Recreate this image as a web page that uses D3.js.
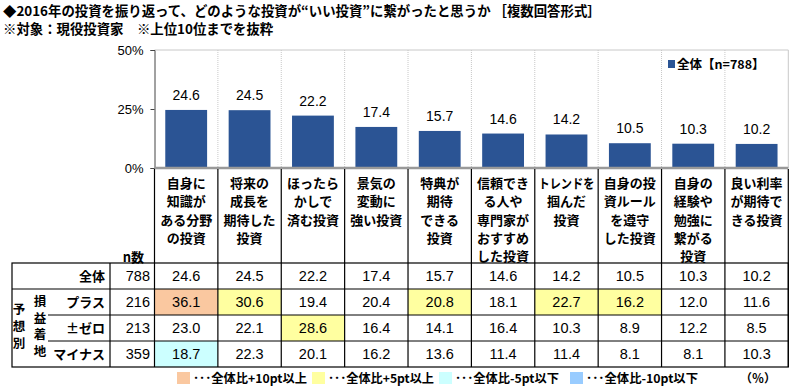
<!DOCTYPE html>
<html>
<head>
<meta charset="utf-8">
<script src="https://cdn.jsdelivr.net/npm/d3@7"></script>
<style>
  body { margin: 0; background: #fff; }
  svg { display: block; font-family: "Liberation Sans", Arial, "Noto Sans CJK JP", sans-serif; }
</style>
</head>
<body>
<svg id="chart" width="800" height="389"></svg>
<script>
// data
const categories = [
  ['自身に', '知識が', 'ある分野', 'の投資'],
  ['将来の', '成長を', '期待した', '投資'],
  ['ほったら', 'かしで', '済む投資'],
  ['景気の', '変動に', '強い投資'],
  ['特典が', '期待', 'できる', '投資'],
  ['信頼でき', 'る人や', '専門家が', 'おすすめ', 'した投資'],
  ['トレンドを', '掴んだ', '投資'],
  ['自身の投', '資ルール', 'を遵守', 'した投資'],
  ['自身の', '経験や', '勉強に', '繋がる', '投資'],
  ['良い利率', 'が期待で', 'きる投資']
];
const totalValues = [24.6, 24.5, 22.2, 17.4, 15.7, 14.6, 14.2, 10.5, 10.3, 10.2];
const plusValues = [36.1, 30.6, 19.4, 20.4, 20.8, 18.1, 22.7, 16.2, 12.0, 11.6];
const zeroValues = [23.0, 22.1, 28.6, 16.4, 14.1, 16.4, 10.3, 8.9, 12.2, 8.5];
const minusValues = [18.7, 22.3, 20.1, 16.2, 13.6, 11.4, 11.4, 8.1, 8.1, 10.3];
const rowLabels = ['全体', 'プラス', '±ゼロ', 'マイナス'];
const rowN = [788, 216, 213, 359];
const yTicks = [0, 25, 50];
const legendItems = ['･･･全体比+10pt以上', '･･･全体比+5pt以上', '･･･全体比-5pt以下', '･･･全体比-10pt以下'];

const BAR_FILL = '#2b5494';
const JP = '"Noto Sans CJK JP", sans-serif';
const NUM = '"Liberation Sans", Arial, "Noto Sans CJK JP", sans-serif';
const HL = ['#fac8a0', '#ffffa0', '#ccffff', '#99ccff'];

const svg = d3.select('#chart');
const left = 154.5, right = 788.3, yTop = 50, yBase = 168;
const idx = d3.range(categories.length);

const x = d3.scaleBand().domain(idx).range([left, right]).paddingInner(0.34).paddingOuter(0.17);
const xc = d3.scaleBand().domain(idx).range([left, right]).padding(0);
const y = d3.scaleLinear().domain([0, 50]).range([yBase, yTop]);

// title
svg.append('text').attr('x', 3).attr('y', 16)
  .attr('font-family', JP).attr('font-size', 13.4).attr('font-weight', 'bold')
  .text('◆2016年の投資を振り返って、どのような投資が“いい投資”に繋がったと思うか ［複数回答形式］');
svg.append('text').attr('x', 3).attr('y', 34)
  .attr('font-family', JP).attr('font-size', 13.4).attr('font-weight', 'bold')
  .text('※対象：現役投資家　※上位10位までを抜粋');

// plot frame + grid
svg.append('line').attr('x1', left).attr('x2', right).attr('y1', yTop).attr('y2', yTop)
  .attr('stroke', '#c8c8c8');
svg.append('line').attr('x1', right).attr('x2', right).attr('y1', yTop).attr('y2', yBase)
  .attr('stroke', '#c8c8c8');
idx.slice(1).forEach(i => {
  svg.append('line').attr('x1', xc(i)).attr('x2', xc(i)).attr('y1', yTop).attr('y2', yBase)
    .attr('stroke', '#c8c8c8').attr('stroke-dasharray', '1,1');
});

// y axis
const yAxis = svg.append('g').attr('transform', `translate(${left},0)`)
  .call(d3.axisLeft(y).tickValues(yTicks).tickSize(4).tickFormat(d => d + '%'));
yAxis.select('.domain').attr('stroke', '#444');
yAxis.selectAll('.tick line').attr('stroke', '#444');
yAxis.selectAll('text').attr('font-family', NUM).attr('font-size', 13).attr('fill', '#000').attr('dx', -4);

// bars
svg.selectAll('rect.bar').data(totalValues).join('rect')
  .attr('class', 'bar')
  .attr('x', (d, i) => x(i)).attr('width', x.bandwidth())
  .attr('y', d => y(d)).attr('height', d => yBase - y(d))
  .attr('fill', BAR_FILL);

svg.selectAll('text.val').data(totalValues).join('text')
  .attr('class', 'val')
  .attr('x', (d, i) => x(i) + x.bandwidth() / 2)
  .attr('y', d => y(d) - 10)
  .attr('text-anchor', 'middle')
  .attr('font-family', NUM).attr('font-size', 14)
  .text(d => d.toFixed(1));

// x axis line
svg.append('line').attr('x1', left).attr('x2', right).attr('y1', yBase).attr('y2', yBase)
  .attr('stroke', '#999').attr('stroke-width', 2.5);

// legend top
svg.append('rect').attr('x', 668).attr('y', 60).attr('width', 7).attr('height', 8).attr('fill', BAR_FILL);
svg.append('text').attr('x', 677).attr('y', 69)
  .attr('font-family', JP).attr('font-size', 12.5).attr('font-weight', 'bold')
  .text('全体【n=788】');

// table
const tTop = 263, rowH = 26, tLeft = 12, nLeft = 110;
const rows = [totalValues, plusValues, zeroValues, minusValues];
const tBottom = tTop + rowH * rows.length;

// highlight cells
rows.forEach((vals, r) => {
  if (r === 0) return;
  vals.forEach((v, i) => {
    const d = v - totalValues[i];
    let c = null;
    if (d >= 10) c = HL[0];
    else if (d >= 5) c = HL[1];
    else if (d <= -10) c = HL[3];
    else if (d <= -5) c = HL[2];
    if (c) svg.append('rect').attr('x', xc(i)).attr('y', tTop + r * rowH)
      .attr('width', xc.bandwidth()).attr('height', rowH).attr('fill', c);
  });
});

// header column lines
idx.concat([categories.length]).forEach(i => {
  const xx = i < categories.length ? xc(i) : right;
  svg.append('line').attr('x1', xx).attr('x2', xx).attr('y1', yBase + 1).attr('y2', tBottom)
    .attr('stroke', '#000').attr('stroke-width', 1.2);
});

// category labels
categories.forEach((lines, i) => {
  const t = svg.append('text')
    .attr('x', xc(i) + xc.bandwidth() / 2)
    .attr('text-anchor', 'middle')
    .attr('font-family', JP).attr('font-size', 13).attr('font-weight', 'bold');
  lines.forEach((s, k) => {
    t.append('tspan').attr('x', xc(i) + xc.bandwidth() / 2).attr('y', 188 + k * 18.3)
      .attr('textLength', s.length > 4 ? 56 : null)
      .attr('lengthAdjust', 'spacingAndGlyphs')
      .text(s);
  });
});

svg.append('text').attr('x', 144).attr('y', 262).attr('text-anchor', 'end')
  .attr('font-family', JP).attr('font-size', 13).attr('font-weight', 'bold').text('n数');

// table outline
svg.append('rect').attr('x', tLeft).attr('y', tTop).attr('width', right - tLeft).attr('height', tBottom - tTop)
  .attr('fill', 'none').attr('stroke', '#000').attr('stroke-width', 1.2);
svg.append('line').attr('x1', nLeft).attr('x2', nLeft).attr('y1', tTop).attr('y2', tBottom)
  .attr('stroke', '#000').attr('stroke-width', 1.2);
svg.append('line').attr('x1', tLeft).attr('x2', right).attr('y1', tTop + rowH).attr('y2', tTop + rowH)
  .attr('stroke', '#000').attr('stroke-width', 1.2);
[2, 3].forEach(r => {
  svg.append('line').attr('x1', 48).attr('x2', right).attr('y1', tTop + r * rowH).attr('y2', tTop + r * rowH)
    .attr('stroke', '#000').attr('stroke-width', 1);
});

// group labels (vertical text)
const groupMid = tTop + rowH + (tBottom - tTop - rowH) / 2;
svg.append('text').attr('x', 19).attr('y', groupMid)
  .attr('writing-mode', 'tb').attr('text-anchor', 'middle')
  .attr('letter-spacing', 4.5)
  .attr('font-family', JP).attr('font-size', 12.5).attr('font-weight', 'bold').text('予想別');
svg.append('text').attr('x', 40).attr('y', groupMid)
  .attr('writing-mode', 'tb').attr('text-anchor', 'middle')
  .attr('letter-spacing', 4)
  .attr('font-family', JP).attr('font-size', 12.5).attr('font-weight', 'bold').text('損益着地');

rows.forEach((vals, r) => {
  const cy = tTop + r * rowH + rowH / 2 + 5;
  svg.append('text').attr('x', 105).attr('y', cy).attr('text-anchor', 'end')
    .attr('font-family', JP).attr('font-size', 13).attr('font-weight', 'bold').text(rowLabels[r]);
  svg.append('text').attr('x', 150).attr('y', cy).attr('text-anchor', 'end')
    .attr('font-family', NUM).attr('font-size', 14.5).text(rowN[r]);
  vals.forEach((v, i) => {
    svg.append('text').attr('x', xc(i) + xc.bandwidth() / 2).attr('y', cy).attr('text-anchor', 'middle')
      .attr('font-family', NUM).attr('font-size', 14.5).text(v.toFixed(1));
  });
});

// bottom legend
const legX = [177, 312, 439, 570];
const legW = [114, 106, 104, 112];
legendItems.forEach((s, k) => {
  svg.append('rect').attr('x', legX[k]).attr('y', 372).attr('width', 13).attr('height', 12).attr('fill', HL[k]);
  svg.append('text').attr('x', legX[k] + 16).attr('y', 383)
    .attr('textLength', legW[k]).attr('lengthAdjust', 'spacingAndGlyphs')
    .attr('font-family', JP).attr('font-size', 12).attr('font-weight', 'bold').text(s);
});
svg.append('text').attr('x', 740).attr('y', 383)
  .attr('font-family', JP).attr('font-size', 12).attr('font-weight', 'bold').text('（％）');
</script>
</body>
</html>
